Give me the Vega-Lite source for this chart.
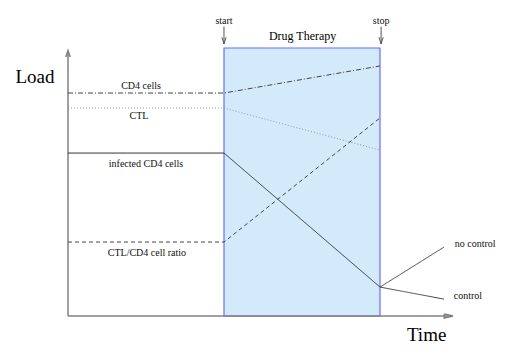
{
  "$schema": "https://vega.github.io/schema/vega-lite/v6.json",
  "width": 512,
  "height": 358,
  "padding": 0,
  "autosize": {"type": "fit", "contains": "padding"},
  "view": {"stroke": null},
  "background": "white",
  "datasets": {
    "box": [{"t0": 10, "t1": 20, "l0": 0, "l1": 10}],
    "arrows": [
      {"kind": "axis", "part": "yaxis-stem", "ord": 1, "t": 0, "load": 0},
      {"kind": "axis", "part": "yaxis-stem", "ord": 2, "t": 0, "load": 9.85},
      {"kind": "axis", "part": "yaxis-head", "ord": 1, "t": -0.14, "load": 9.66},
      {"kind": "axis", "part": "yaxis-head", "ord": 2, "t": 0, "load": 9.9},
      {"kind": "axis", "part": "yaxis-head", "ord": 3, "t": 0.14, "load": 9.66},
      {"kind": "axis", "part": "xaxis-stem", "ord": 1, "t": 0, "load": 0},
      {"kind": "axis", "part": "xaxis-stem", "ord": 2, "t": 24.6, "load": 0},
      {"kind": "axis", "part": "xaxis-head", "ord": 1, "t": 24.12, "load": 0.075},
      {"kind": "axis", "part": "xaxis-head", "ord": 2, "t": 24.68, "load": 0},
      {"kind": "axis", "part": "xaxis-head", "ord": 3, "t": 24.12, "load": -0.075},
      {"kind": "axis", "part": "xaxis-head", "ord": 4, "t": 24.12, "load": 0.075},
      {"kind": "marker", "part": "start-stem", "ord": 1, "t": 10, "load": 10.8},
      {"kind": "marker", "part": "start-stem", "ord": 2, "t": 10, "load": 10.15},
      {"kind": "marker", "part": "start-head", "ord": 1, "t": 9.87, "load": 10.4},
      {"kind": "marker", "part": "start-head", "ord": 2, "t": 10, "load": 10.15},
      {"kind": "marker", "part": "start-head", "ord": 3, "t": 10.13, "load": 10.4},
      {"kind": "marker", "part": "stop-stem", "ord": 1, "t": 20.07, "load": 10.8},
      {"kind": "marker", "part": "stop-stem", "ord": 2, "t": 20.07, "load": 10.15},
      {"kind": "marker", "part": "stop-head", "ord": 1, "t": 19.94, "load": 10.4},
      {"kind": "marker", "part": "stop-head", "ord": 2, "t": 20.07, "load": 10.15},
      {"kind": "marker", "part": "stop-head", "ord": 3, "t": 20.2, "load": 10.4}
    ],
    "lines": [
      {"series": "CD4 cells", "t": 0, "load": 8.32},
      {"series": "CD4 cells", "t": 10, "load": 8.32},
      {"series": "CD4 cells", "t": 20, "load": 9.33},
      {"series": "CTL", "t": 0, "load": 7.76},
      {"series": "CTL", "t": 10, "load": 7.76},
      {"series": "CTL", "t": 20, "load": 6.19},
      {"series": "infected CD4 cells", "t": 0, "load": 6.08},
      {"series": "infected CD4 cells", "t": 10, "load": 6.08},
      {"series": "infected CD4 cells", "t": 20, "load": 1.08},
      {"series": "no control", "t": 20, "load": 1.08},
      {"series": "no control", "t": 24.1, "load": 2.57},
      {"series": "control", "t": 20, "load": 1.08},
      {"series": "control", "t": 24.1, "load": 0.63},
      {"series": "CTL/CD4 cell ratio", "t": 0, "load": 2.76},
      {"series": "CTL/CD4 cell ratio", "t": 10, "load": 2.76},
      {"series": "CTL/CD4 cell ratio", "t": 20, "load": 7.39}
    ],
    "texts": [
      {"role": "title", "label": "Load", "t": -2.12, "load": 8.9},
      {"role": "title", "label": "Time", "t": 22.99, "load": -0.7},
      {"role": "heading", "label": "Drug Therapy", "t": 15.04, "load": 10.46},
      {"role": "small", "label": "start", "t": 10, "load": 11.0},
      {"role": "small", "label": "stop", "t": 20.07, "load": 11.0},
      {"role": "small", "label": "CD4 cells", "t": 4.68, "load": 8.58},
      {"role": "small", "label": "CTL", "t": 4.55, "load": 7.46},
      {"role": "small", "label": "infected CD4 cells", "t": 5.0, "load": 5.67},
      {"role": "small", "label": "CTL/CD4 cell ratio", "t": 5.06, "load": 2.35},
      {"role": "small", "label": "no control", "t": 26.1, "load": 2.69},
      {"role": "small", "label": "control", "t": 25.64, "load": 0.75}
    ]
  },
  "resolve": {"scale": {"x": "shared", "y": "shared", "color": "independent", "strokeDash": "independent"}},
  "layer": [
    {
      "data": {"name": "box"},
      "mark": {"type": "rect", "fill": "#d3eafb", "stroke": "#6b6bff", "strokeWidth": 1.2},
      "encoding": {
        "x": {"field": "t0", "type": "quantitative", "scale": {"domain": [-4.359, 28.462], "nice": false, "zero": false}, "axis": null},
        "x2": {"field": "t1"},
        "y": {"field": "l0", "type": "quantitative", "scale": {"domain": [-1.567, 11.791], "nice": false, "zero": false}, "axis": null},
        "y2": {"field": "l1"}
      }
    },
    {
      "data": {"name": "arrows"},
      "transform": [{"filter": "datum.kind === 'axis'"}],
      "mark": {"type": "line", "stroke": "#808080", "strokeWidth": 1.5, "strokeJoin": "miter"},
      "encoding": {
        "x": {"field": "t", "type": "quantitative", "axis": null},
        "y": {"field": "load", "type": "quantitative", "axis": null},
        "detail": {"field": "part", "type": "nominal"},
        "order": {"field": "ord", "type": "quantitative"}
      }
    },
    {
      "data": {"name": "arrows"},
      "transform": [{"filter": "datum.kind === 'marker'"}],
      "mark": {"type": "line", "stroke": "#555555", "strokeWidth": 1},
      "encoding": {
        "x": {"field": "t", "type": "quantitative", "axis": null},
        "y": {"field": "load", "type": "quantitative", "axis": null},
        "detail": {"field": "part", "type": "nominal"},
        "order": {"field": "ord", "type": "quantitative"}
      }
    },
    {
      "data": {"name": "lines"},
      "mark": {"type": "line", "strokeWidth": 1},
      "encoding": {
        "x": {"field": "t", "type": "quantitative", "axis": null},
        "y": {"field": "load", "type": "quantitative", "axis": null},
        "detail": {"field": "series", "type": "nominal"},
        "strokeDash": {
          "field": "series", "type": "nominal", "legend": null,
          "scale": {
            "domain": ["CD4 cells", "CTL", "infected CD4 cells", "no control", "control", "CTL/CD4 cell ratio"],
            "range": [[5, 2, 1, 2], [1, 2], [1, 0], [1, 0], [1, 0], [4, 3]]
          }
        },
        "color": {
          "field": "series", "type": "nominal", "legend": null,
          "scale": {
            "domain": ["CD4 cells", "CTL", "infected CD4 cells", "no control", "control", "CTL/CD4 cell ratio"],
            "range": ["#444444", "#8a9aa6", "#333333", "#444444", "#444444", "#444444"]
          }
        }
      }
    },
    {
      "data": {"name": "texts"},
      "transform": [{"filter": "datum.role === 'title'"}],
      "mark": {"type": "text", "font": "Liberation Serif", "fontSize": 19, "color": "#000000", "baseline": "middle", "align": "center"},
      "encoding": {
        "x": {"field": "t", "type": "quantitative", "axis": null},
        "y": {"field": "load", "type": "quantitative", "axis": null},
        "text": {"field": "label"}
      }
    },
    {
      "data": {"name": "texts"},
      "transform": [{"filter": "datum.role === 'heading'"}],
      "mark": {"type": "text", "font": "Liberation Serif", "fontSize": 12, "color": "#000000", "baseline": "middle", "align": "center"},
      "encoding": {
        "x": {"field": "t", "type": "quantitative", "axis": null},
        "y": {"field": "load", "type": "quantitative", "axis": null},
        "text": {"field": "label"}
      }
    },
    {
      "data": {"name": "texts"},
      "transform": [{"filter": "datum.role === 'small'"}],
      "mark": {"type": "text", "font": "Liberation Serif", "fontSize": 10, "color": "#111111", "baseline": "middle", "align": "center"},
      "encoding": {
        "x": {"field": "t", "type": "quantitative", "axis": null},
        "y": {"field": "load", "type": "quantitative", "axis": null},
        "text": {"field": "label"}
      }
    }
  ]
}
